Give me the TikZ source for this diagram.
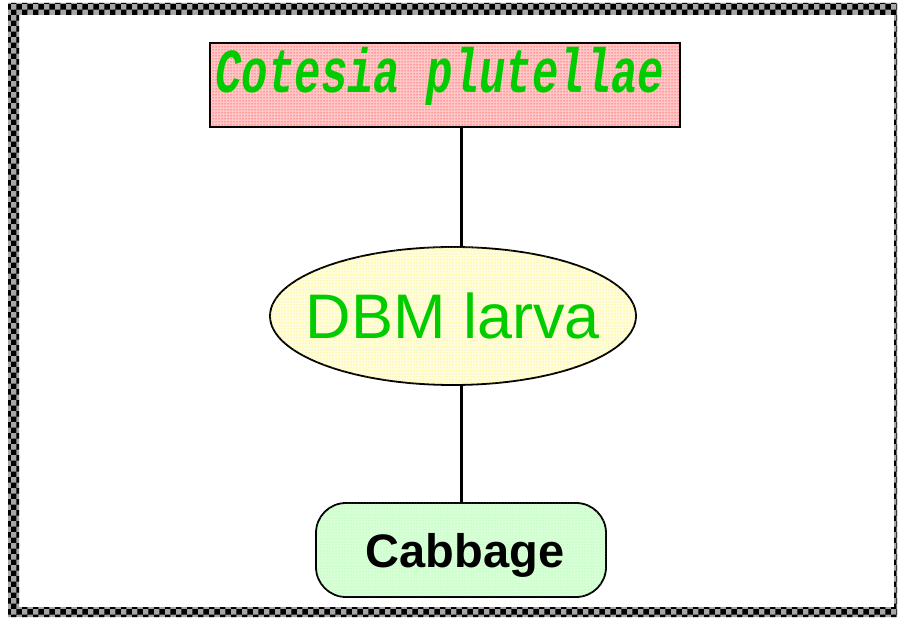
\documentclass[tikz,border=0pt]{standalone}
\usepackage{fontspec}
\setmainfont{Liberation Sans}
\newfontfamily\monoit{Liberation Mono}
\usetikzlibrary{patterns,shapes.geometric}
\definecolor{txtgreen}{RGB}{0,204,0}
\tikzset{
  conn/.style={line width=3pt},
  parasit/.style={draw=black, line width=1.8pt, minimum width=470pt, minimum height=84pt, inner sep=0pt,
    fill=red!22, postaction={pattern=dots, pattern color=red}},
  host/.style={ellipse, draw=black, line width=1.8pt, minimum width=366pt, minimum height=138pt, inner sep=0pt,
    fill=yellow!12, postaction={pattern=dots, pattern color=yellow!85!orange}},
  plant/.style={draw=black, line width=1.8pt, rounded corners=30pt, minimum width=290pt, minimum height=94pt, inner sep=0pt,
    fill=green!15, postaction={pattern=dots, pattern color=green!45}}
}
\begin{document}
\begin{tikzpicture}[x=1pt,y=-1pt]
\useasboundingbox (0,0) rectangle (898,620);
\fill[white] (0,0) rectangle (898,620);
% checkered frame
\fill[black!35, even odd rule]
  (8,3) rectangle (897,617) (19,15) rectangle (894,607);
\fill[pattern=checkerboard, pattern color=black, even odd rule]
  (8,3) rectangle (897,617) (19,15) rectangle (894,607);
\node[parasit] (par) at (445,85) {};
\node[text=txtgreen, inner sep=0pt] (partxt) at (440,76)
  {\scalebox{0.88}[1.25]{\monoit\bfseries\itshape\fontsize{50}{50}\selectfont Cotesia plutellae}};
\node[host] (dbm) at (453,316) {};
\node[text=txtgreen, inner sep=0pt] (dbmtxt) at (453,316) {\fontsize{63}{63}\selectfont DBM larva};
\node[plant] (cab) at (461,550) {};
\node[inner sep=0pt] (cabtxt) at (465,555) {\fontsize{47}{47}\selectfont\bfseries Cabbage};
\draw[conn] (par.south -| 461,0) -- (dbm.north -| 461,0);
\draw[conn] (dbm.south -| 461,0) -- (cab.north);
\end{tikzpicture}
\end{document}
